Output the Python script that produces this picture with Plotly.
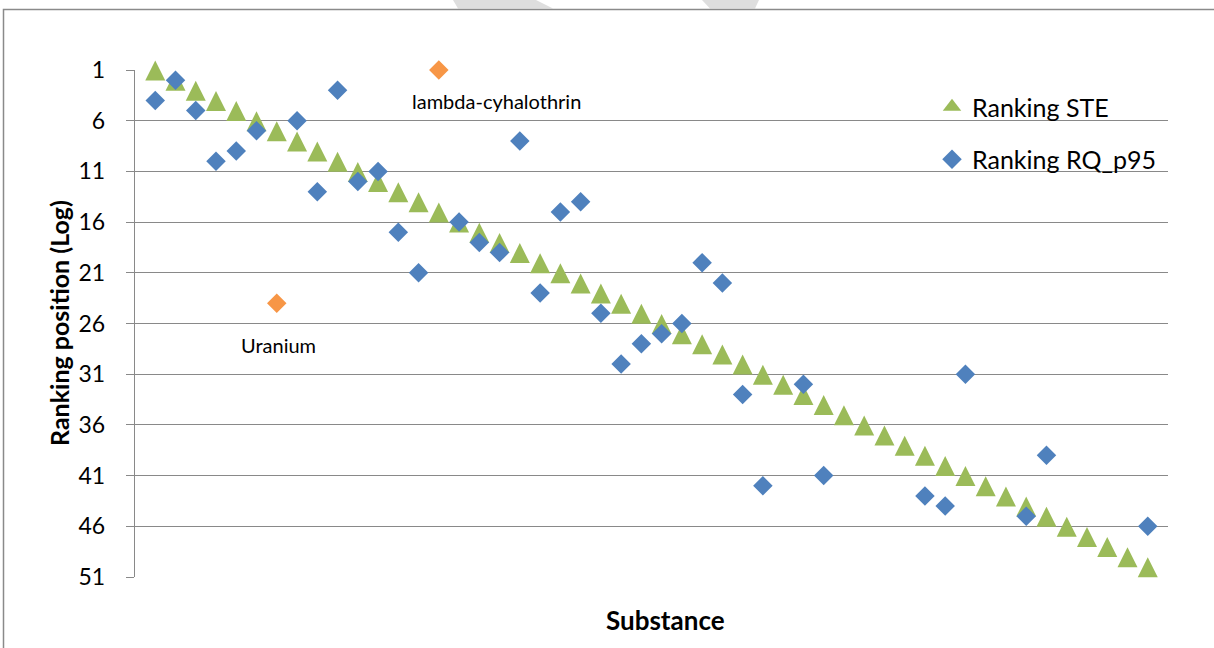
import plotly.graph_objects as go

# ---------------- data ----------------
substance = [1, 2, 3, 4, 5, 6, 7, 8, 9, 10, 11, 12, 13, 14, 15, 16, 17, 18, 19, 20,
             21, 22, 23, 24, 25, 26, 27, 28, 29, 30, 31, 32, 33, 34, 35, 36, 37, 38, 39, 40,
             41, 42, 43, 44, 45, 46, 47, 48, 49, 50]
ranking_ste = [1, 2, 3, 4, 5, 6, 7, 8, 9, 10, 11, 12, 13, 14, 15, 16, 17, 18, 19, 20,
               21, 22, 23, 24, 25, 26, 27, 28, 29, 30, 31, 32, 33, 34, 35, 36, 37, 38, 39, 40,
               41, 42, 43, 44, 45, 46, 47, 48, 49, 50]
ranking_rq_p95 = [4, 2, 5, 10, 9, 7, None, 6, 13, 3, 12, 11, 17, 21, None, 16, 18, 19, 8, 23,
                  15, 14, 25, 30, 28, 27, 26, 20, 22, 33, 42, None, 32, 41, None, None, None, None, 43, 44,
                  31, None, None, 45, 39, None, None, None, None, 46]
highlight_names = ["Uranium", "lambda-cyhalothrin"]
highlight_substance = [7, 15]
highlight_rank = [24, 1]

y_ticks = [1, 6, 11, 16, 21, 26, 31, 36, 41, 46, 51]
y_range = [51, 1]

GREEN = "#9BBB59"
BLUE = "#4F81BD"
ORANGE = "#F79646"
GRID = "#898989"
FONT = "Lato, Carlito, Calibri, sans-serif"

W, H = 1214, 648
L, R, B = 135, 46, 71
PLOT_TOP = 70          # pixel row of the top gridline
EXTRA = 12             # spare room above, used by the shifted triangle axis
T = PLOT_TOP - EXTRA
PW, PH = W - L - R, H - T - B
AXIS_H = H - B - PLOT_TOP
main_domain = [0, AXIS_H / PH]

TRI_SIZE = 20
# "arrow-up" puts its apex on the point: a twin axis whose domain is raised by
# half the marker height centres each triangle on its value
tri_lift = (TRI_SIZE / 2 - 0.5) / PH
tri_domain = [main_domain[0] + tri_lift, main_domain[1] + tri_lift]

fig = go.Figure()
fig.add_trace(go.Scatter(
    x=substance, y=ranking_ste, mode="markers", name="Ranking STE", yaxis="y2",
    marker=dict(symbol="arrow-up", size=TRI_SIZE, color=GREEN, line=dict(width=0)),
    cliponaxis=False, showlegend=False))
fig.add_trace(go.Scatter(
    x=substance, y=ranking_rq_p95, mode="markers", name="Ranking RQ_p95", yaxis="y3",
    marker=dict(symbol="diamond", size=15, color=BLUE, line=dict(width=0)),
    cliponaxis=False, showlegend=False))
fig.add_trace(go.Scatter(
    x=highlight_substance, y=highlight_rank, mode="markers", name="highlight", yaxis="y3",
    marker=dict(symbol="diamond", size=15, color=ORANGE, line=dict(width=0)),
    cliponaxis=False, showlegend=False))
# legend entries
fig.add_trace(go.Scatter(
    x=[None], y=[None], mode="markers", name="Ranking STE",
    marker=dict(symbol="triangle-up", size=19, color=GREEN, line=dict(width=0)),
    legendgroup="a"))
fig.add_trace(go.Scatter(
    x=[None], y=[None], mode="markers", name="Ranking RQ_p95",
    marker=dict(symbol="diamond", size=15, color=BLUE, line=dict(width=0)),
    legendgroup="b"))

# labels for the highlighted substances
label_shift = {"Uranium": (2, -42), "lambda-cyhalothrin": (58, -31)}
for name, xs, yr in zip(highlight_names, highlight_substance, highlight_rank):
    dx, dy = label_shift[name]
    fig.add_annotation(x=xs, y=yr, yref="y3", text=name, showarrow=False, xshift=dx, yshift=dy,
                       xanchor="center", yanchor="middle",
                       font=dict(family=FONT, size=20, color="#000000"))


def px(x):
    return (x - L) / PW


def py(y):
    return (H - B - y) / PH


# axis titles
fig.add_annotation(xref="paper", yref="paper", x=px(59), y=py(323), text="<b>Ranking position (Log)</b>",
                   textangle=-90, showarrow=False, xanchor="center", yanchor="middle",
                   font=dict(family=FONT, size=25, color="#000000"))
fig.add_annotation(xref="paper", yref="paper", x=px(665), y=py(620), text="<b>Substance</b>",
                   showarrow=False, xanchor="center", yanchor="middle",
                   font=dict(family=FONT, size=26, color="#000000"))

# chart-area border (top + left) and faint watermark fragments
fig.add_shape(type="path", xref="paper", yref="paper",
              path=f"M {px(3.5)},{py(660)} L {px(3.5)},{py(9.5)} L {px(1220)},{py(9.5)}",
              line=dict(color="#8A8A8A", width=1.5), layer="above")
fig.add_shape(type="path", xref="paper", yref="paper",
              path=f"M {px(453)},{py(0)} L {px(536)},{py(0)} L {px(553)},{py(8.5)} L {px(458)},{py(8.5)} Z",
              fillcolor="#DEDEDE", line=dict(width=0), layer="below")
fig.add_shape(type="path", xref="paper", yref="paper",
              path=f"M {px(702)},{py(0)} L {px(759)},{py(0)} L {px(755)},{py(8.5)} L {px(710)},{py(8.5)} Z",
              fillcolor="#DEDEDE", line=dict(width=0), layer="below")

hidden_axis = dict(range=y_range, visible=False, showgrid=False, zeroline=False, anchor="x")

fig.update_layout(
    width=W, height=H, autosize=False,
    margin=dict(l=L, r=R, t=T, b=B, pad=0),
    paper_bgcolor="white", plot_bgcolor="rgba(0,0,0,0)",
    font=dict(family=FONT, color="#000000"),
    showlegend=True,
    legend=dict(x=px(932), y=py(84), xanchor="left", yanchor="top",
                font=dict(family=FONT, size=25, color="#000000"),
                bgcolor="rgba(0,0,0,0)", tracegroupgap=17, itemsizing="trace"),
    xaxis=dict(range=[0, 51], showgrid=False, zeroline=False, showticklabels=False,
               ticks="", showline=False),
    yaxis=dict(range=y_range, domain=main_domain, tickvals=y_ticks, ticktext=[str(v) for v in y_ticks],
               showgrid=True, gridcolor=GRID, gridwidth=1.4, zeroline=False,
               showline=True, linecolor=GRID, linewidth=1.4,
               ticks="outside", ticklen=8, tickcolor=GRID, tickwidth=1.4,
               ticklabelstandoff=16,
               tickfont=dict(family=FONT, size=23, color="#000000")),
    yaxis2=dict(hidden_axis, domain=tri_domain),
    yaxis3=dict(hidden_axis, domain=main_domain),
)

fig.write_html("out.html")
